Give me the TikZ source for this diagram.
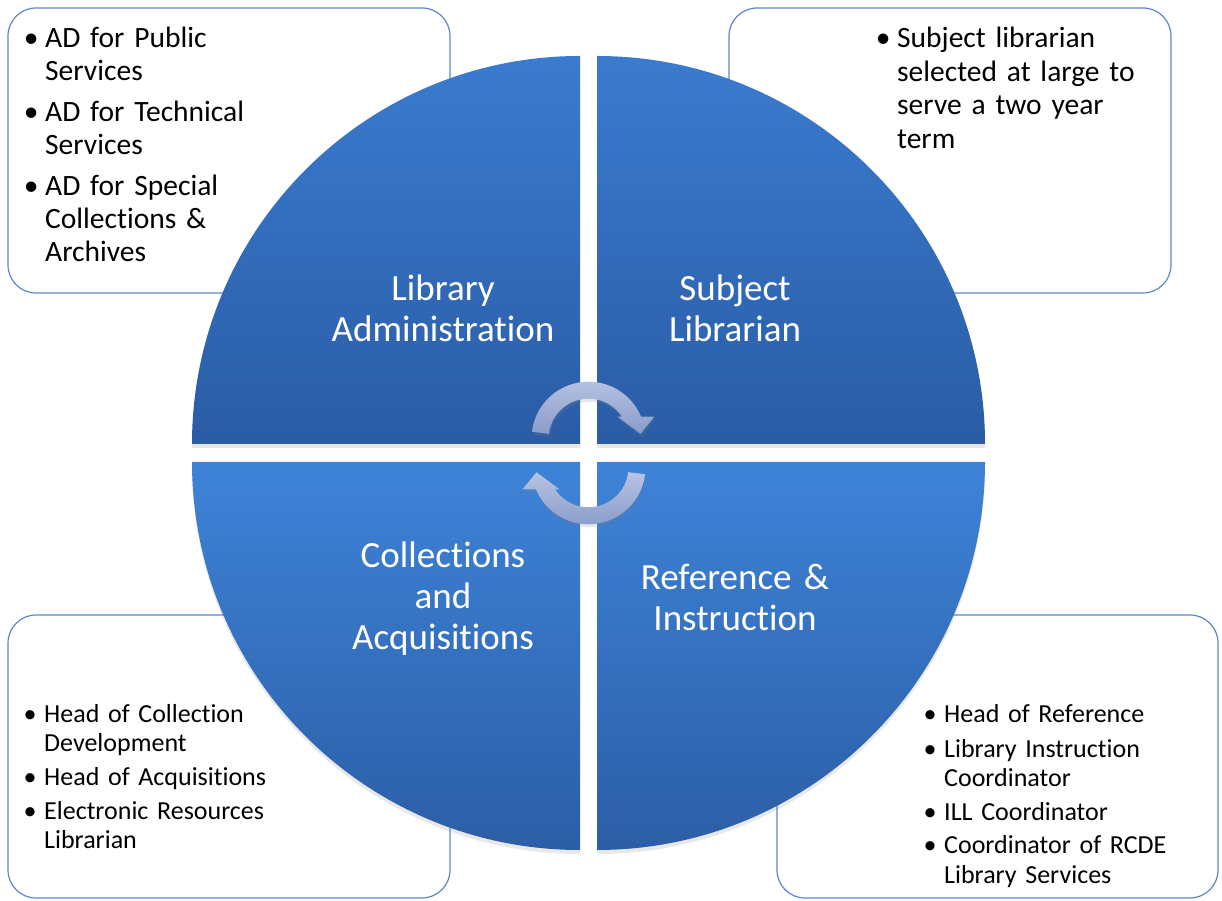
\documentclass[tikz,border=0pt]{standalone}
\usepackage{fontspec}
\setmainfont{Carlito}[Ligatures=NoCommon]
\usetikzlibrary{shadows}

\definecolor{boxedge}{HTML}{5B87C8}
\definecolor{qtoplight}{HTML}{3B7BCF}
\definecolor{qtopdark}{HTML}{2A5CA5}
\definecolor{qbotlight}{HTML}{3E83D8}
\definecolor{qbotdark}{HTML}{2C5EA6}
\definecolor{arrowlight}{HTML}{B7C3E4}
\definecolor{arrowdark}{HTML}{8A9BC9}

% circular arrow outline, centred at the origin
\newcommand\cycarrow{(173:57) arc[start angle=173,end angle=22.7,radius=57]
  -- (66,22) -- (52,5) -- (29,22) -- (33.4,22)
  arc[start angle=33.4,end angle=173,radius=40] -- cycle}
\newcommand\itembullet{\leavevmode\llap{\makebox[28pt]{•}}}

\begin{document}
\begin{tikzpicture}[x=1pt,y=1pt,
  infobox/.style={draw=boxedge, line width=1.2pt, rounded corners=28pt, fill=white},
  quartertop/.style={top color=qtoplight, bottom color=qtopdark,
    drop shadow={opacity=0.18, shadow xshift=0pt, shadow yshift=-4pt}},
  quarterbot/.style={top color=qbotlight, bottom color=qbotdark,
    drop shadow={opacity=0.18, shadow xshift=0pt, shadow yshift=-4pt}},
  cyclearrow/.style={top color=arrowlight, bottom color=arrowdark,
    drop shadow={opacity=0.2, shadow xshift=1pt, shadow yshift=-3pt}},
  bigtext/.style={text=white, font=\fontsize{37}{41}\selectfont,
    text width=320pt, align=center, inner sep=0pt, anchor=base},
  listtext/.style={text=black, text width=400pt, align=left, inner sep=0pt, anchor=base west},
]
\useasboundingbox (0,0) rectangle (1222,901);

% corner boxes
\draw[infobox] (8,608) rectangle (450,893);
\draw[infobox] (729,608) rectangle (1171,893);
\draw[infobox] (8,3) rectangle (450,286);
\draw[infobox] (777,3) rectangle (1218,286);

% quarter segments of the circle
\path[quartertop] (580,457) -- (192,457) arc[start angle=180,end angle=90,radius=388] -- cycle;
\path[quartertop] (597,457) -- (597,845) arc[start angle=90,end angle=0,radius=388] -- cycle;
\path[quarterbot] (580,439) -- (192,439) arc[start angle=180,end angle=270,radius=388] -- cycle;
\path[quarterbot] (597,439) -- (985,439) arc[start angle=0,end angle=-90,radius=388] -- cycle;

% central cycle arrows
\path[cyclearrow, shift={(588.5,462.3)}] \cycarrow;
\path[cyclearrow, shift={(588.5,433.7)}, rotate=180] \cycarrow;

% segment titles
\node[bigtext] (admin) at (443,600) {Library\\Administration};
\node[bigtext] (subject) at (735,600) {Subject\\Librarian};
\node[bigtext] (collect) at (443,333) {Collections\\and\\Acquisitions};
\node[bigtext] (refinst) at (735,311) {Reference \&\\Instruction};

% bullet lists
\node[listtext, font=\fontsize{29.5}{33}\selectfont] (adminlist) at (45,853)
  {\itembullet AD for Public\\Services\\[8pt]
   \itembullet AD for Technical\\Services\\[8pt]
   \itembullet AD for Special\\Collections \&\\Archives};
\node[listtext, font=\fontsize{29.5}{33.5}\selectfont] (subjectlist) at (897,853)
  {\itembullet Subject librarian\\selected at large to\\serve a two year\\term};
\node[listtext, font=\fontsize{26}{29}\selectfont] (collectlist) at (44,178)
  {\itembullet Head of Collection\\Development\\[5pt]
   \itembullet Head of Acquisitions\\[5pt]
   \itembullet Electronic Resources\\Librarian};
\node[listtext, font=\fontsize{26}{29.5}\selectfont] (refinstlist) at (944,178)
  {\itembullet Head of Reference\\[5pt]
   \itembullet Library Instruction\\Coordinator\\[4pt]
   \itembullet ILL Coordinator\\[4pt]
   \itembullet Coordinator of RCDE\\Library Services};
\end{tikzpicture}
\end{document}
